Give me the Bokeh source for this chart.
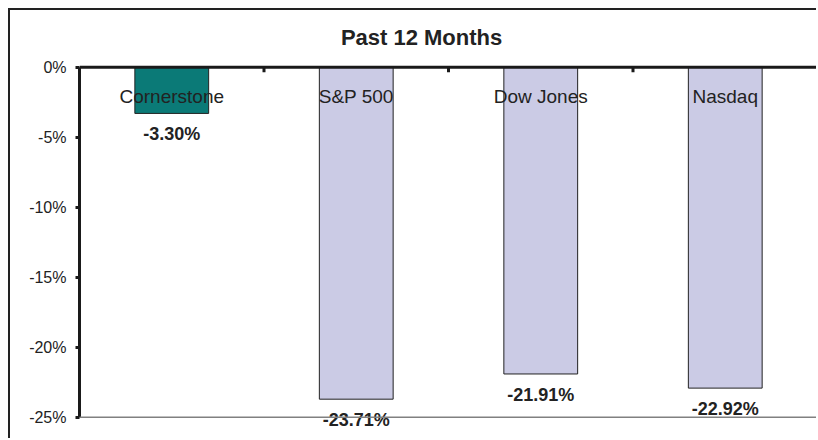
from bokeh.plotting import figure
from bokeh.models import (FactorRange, Range1d, FixedTicker, PrintfTickFormatter,
                          ColumnDataSource, Span)
from bokeh.core.properties import value
from bokeh.embed import file_html
from bokeh.resources import INLINE

title_text = "Past 12 Months"
categories = ["Cornerstone", "S&P 500", "Dow Jones", "Nasdaq"]
returns = [-3.30, -23.71, -21.91, -22.92]
bar_colors = ["#0B7A77", "#CBCBE5", "#CBCBE5", "#CBCBE5"]
y_ticks = [0, -5, -10, -15, -20, -25]
y_min, y_max = -25, 0

FONT = "Liberation Sans"
TXT = "#222222"
AX = "#1a1a1a"
GRAY = "#808080"

labels = [f"{v:.2f}%" for v in returns]
src = ColumnDataSource(dict(cat=categories, val=returns, color=bar_colors,
                            label=labels, zero=[0] * len(categories)))
# category boundaries (synthetic coordinates of the factor range)
bounds = list(range(len(categories) + 1))

# the frame covers the whole chart area (title space above 0, label space below -25)
p = figure(width=808, height=430,
           x_range=FactorRange(*categories, range_padding=0),
           y_range=Range1d(-26.59, 4.05),
           x_axis_location=None,
           output_backend="svg", toolbar_location=None,
           min_border_left=69, min_border_right=1,
           min_border_top=0, min_border_bottom=1)
p.styles = {"margin-left": "8px", "margin-top": "8px",
            "border-left": "2px solid #222222", "border-top": "2px solid #222222"}

p.grid.visible = False
p.background_fill_color = "white"
p.border_fill_color = "white"
p.outline_line_color = None

p.vbar(x="cat", top="val", bottom=0, width=0.4, source=src,
       fill_color="color", line_color="#222222", line_width=1)

# plot-area edges (bottom and right) in thin gray
p.add_layout(Span(location=y_min, dimension="width", line_width=1.5, line_color=GRAY))
p.segment(x0=[bounds[-1]], x1=[bounds[-1]], y0=[y_min], y1=[y_max],
          line_width=2.5, line_color=GRAY)

# x axis line at 0 with ticks at category boundaries
p.segment(x0=bounds, x1=bounds, y0=[0] * len(bounds), y1=[-0.36] * len(bounds),
          line_width=3, line_color=AX)
p.add_layout(Span(location=0, dimension="width", line_width=3, line_color=AX))

ya = p.yaxis[0]
ya.bounds = (y_min, y_max)
ya.ticker = FixedTicker(ticks=y_ticks)
ya.formatter = PrintfTickFormatter(format="%d%%")
ya.axis_line_width = 3
ya.axis_line_color = AX
ya.major_tick_in = 0
ya.major_tick_out = 4
ya.major_tick_line_width = 3
ya.major_tick_line_color = AX
ya.minor_tick_line_color = None
ya.major_label_standoff = 9
ya.major_label_text_font = FONT
ya.major_label_text_font_size = "16px"
ya.major_label_text_color = TXT

p.text(x="cat", y="zero", text="cat", source=src, y_offset=29,
       text_align="center", text_baseline="middle",
       text_font=value(FONT), text_font_size="19px", text_color=TXT)

p.text(x="cat", y="val", text="label", source=src, y_offset=21,
       text_align="center", text_baseline="middle",
       text_font=value(FONT), text_font_size="18px", text_font_style="bold",
       text_color=TXT)

# chart title, centred over the whole chart area
p.text(x=[1.854], y=[0], text=[title_text], y_offset=-30,
       text_align="center", text_baseline="middle",
       text_font=value(FONT), text_font_size="22px", text_font_style="bold",
       text_color=TXT)

open("out.html", "w").write(file_html(p, INLINE))
